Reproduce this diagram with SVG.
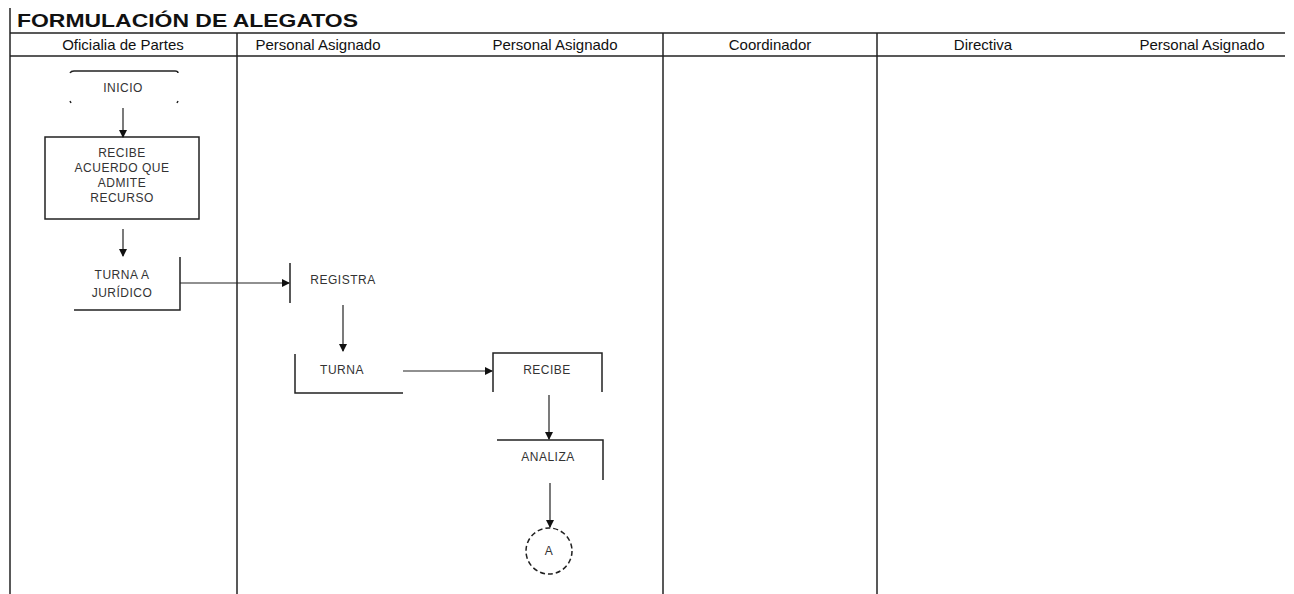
<svg xmlns="http://www.w3.org/2000/svg" width="1294" height="594" viewBox="0 0 1294 594">
<defs>
<marker id="ah" markerWidth="8" markerHeight="8" refX="7" refY="4" orient="auto" markerUnits="userSpaceOnUse">
<path d="M0,0 L8,4 L0,8 Z" fill="#111"/>
</marker>
<style>
.ln{stroke:#222;stroke-width:1.5;fill:none}
.cn{stroke:#222;stroke-width:1.2;fill:none;marker-end:url(#ah)}
.title{font-family:"Liberation Sans",Arial,sans-serif;font-size:19px;font-weight:bold;fill:#111}
.hd{font-family:"Liberation Sans",Arial,sans-serif;font-size:15px;fill:#111;text-anchor:middle}
.tx{font-family:"Liberation Sans",Arial,sans-serif;font-size:12px;letter-spacing:0.5px;fill:#333;text-anchor:middle}
</style>
</defs>
<rect width="1294" height="594" fill="#fff"/>
<g id="frame">
<line class="ln" x1="10" y1="8" x2="10" y2="594"/>
<text class="title" x="17" y="27" textLength="341" lengthAdjust="spacingAndGlyphs">FORMULACIÓN DE ALEGATOS</text>
<line class="ln" x1="10" y1="33" x2="1285" y2="33" stroke-width="2"/>
<line class="ln" x1="10" y1="56" x2="1285" y2="56" stroke-width="2"/>
<line class="ln" x1="237" y1="33" x2="237" y2="594"/>
<line class="ln" x1="663" y1="33" x2="663" y2="594"/>
<line class="ln" x1="877" y1="33" x2="877" y2="594"/>
<text class="hd" x="123" y="50">Oficialia de Partes</text>
<text class="hd" x="318" y="50">Personal Asignado</text>
<text class="hd" x="555" y="50">Personal Asignado</text>
<text class="hd" x="770" y="50">Coordinador</text>
<text class="hd" x="983" y="50">Directiva</text>
<text class="hd" x="1202" y="50">Personal Asignado</text>
</g>
<g id="inicio">
<path class="ln" d="M70,73 Q71,71 74,71 L175,71 Q178,71 178,73"/>
<path class="ln" d="M70,101 L71,103 M178,101 L177,103" stroke-width="1"/>
<text class="tx" x="123" y="92">INICIO</text>
</g>
<g id="recibe1">
<rect class="ln" x="45" y="137" width="154" height="82"/>
<text class="tx" x="122" y="157">RECIBE</text>
<text class="tx" x="122" y="172">ACUERDO QUE</text>
<text class="tx" x="122" y="187">ADMITE</text>
<text class="tx" x="122" y="202">RECURSO</text>
</g>
<g id="turna_juridico">
<path class="ln" d="M180,257 L180,310 L74,310"/>
<text class="tx" x="122" y="279">TURNA A</text>
<text class="tx" x="122" y="297">JURÍDICO</text>
</g>
<g id="registra">
<line class="ln" x1="290" y1="263" x2="290" y2="303"/>
<text class="tx" x="343" y="284">REGISTRA</text>
</g>
<g id="turna">
<path class="ln" d="M295,354 L295,393 L403,393"/>
<text class="tx" x="342" y="374">TURNA</text>
</g>
<g id="recibe2">
<path class="ln" d="M493,392 L493,353 L602,353 L602,392"/>
<text class="tx" x="547" y="374">RECIBE</text>
</g>
<g id="analiza">
<path class="ln" d="M497,440 L603,440 L603,480"/>
<text class="tx" x="548" y="461">ANALIZA</text>
</g>
<g id="conector_a">
<circle cx="549" cy="551" r="23" class="ln" stroke-dasharray="5,3"/>
<text class="tx" x="549" y="555">A</text>
</g>
<g id="connectors">
<line class="cn" x1="123" y1="108" x2="123" y2="137"/>
<line class="cn" x1="123" y1="229" x2="123" y2="256"/>
<line class="cn" x1="180" y1="283" x2="289" y2="283"/>
<line class="cn" x1="343" y1="305" x2="343" y2="351"/>
<line class="cn" x1="403" y1="371" x2="492" y2="371"/>
<line class="cn" x1="549" y1="395" x2="549" y2="439"/>
<line class="cn" x1="550" y1="483" x2="550" y2="527"/>
</g>
</svg>
